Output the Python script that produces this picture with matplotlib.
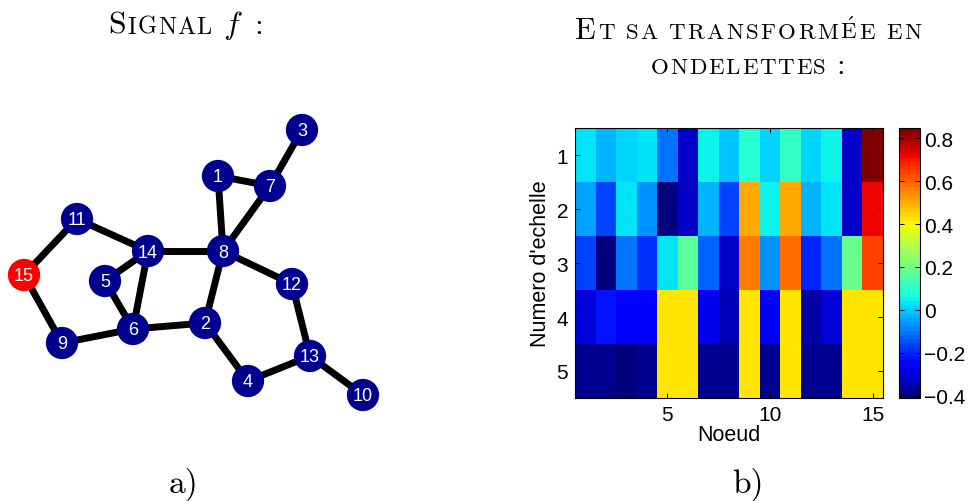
import matplotlib
matplotlib.use('Agg')
import matplotlib.pyplot as plt
import numpy as np

W, H = 976, 502

# Graph a): node layout (pixel coords, y downwards)
NODE_IDS = list(range(1, 16))
NODE_X = [218, 205, 302, 248, 105, 133, 270, 223, 62, 363, 77, 292, 310, 148, 24]
NODE_Y = [177, 324, 131, 382, 282, 330, 187, 252, 344, 396, 220, 285, 357, 252, 276]
EDGES = [(3, 7), (1, 7), (1, 8), (7, 8), (11, 15), (11, 14), (14, 8), (14, 5),
         (14, 6), (5, 6), (15, 9), (9, 6), (6, 2), (2, 8), (8, 12), (2, 4),
         (12, 13), (4, 13), (13, 10)]
SIGNAL_NODE = 15

# Heatmap b): wavelet coefficients, rows = scale 1..5, cols = node 1..15
Y = 0.42  # saturated yellow cells
SCALE_1 = [0.03, -0.03, 0.02, 0.03, -0.10, -0.32, 0.06, 0.00, 0.09, 0.02, 0.105, 0.02, 0.06, -0.32, 0.84]
SCALE_2 = [-0.05, -0.17, 0.04, -0.06, -0.40, -0.32, -0.02, -0.17, 0.51, 0.06, 0.51, -0.02, 0.03, -0.32, 0.71]
SCALE_3 = [-0.17, -0.40, -0.11, -0.19, 0.04, 0.17, -0.13, -0.32, 0.57, -0.06, 0.59, -0.21, -0.11, 0.18, 0.64]
SCALE_4 = [-0.30, -0.22, -0.27, -0.27, Y, Y, -0.28, -0.35, Y, -0.27, Y, -0.37, -0.30, Y, Y]
SCALE_5 = [-0.39, -0.39, -0.40, -0.38, Y, Y, -0.39, -0.39, Y, -0.38, Y, -0.39, -0.38, Y, Y]
CLIM = (-0.41, 0.847)
XTICKS = [5, 10, 15]
YTICKS = [1, 2, 3, 4, 5]
CB_TICKS = [-0.4, -0.2, 0, 0.2, 0.4, 0.6, 0.8]
CB_LABELS = ['\u22120.4', '\u22120.2', '0', '0.2', '0.4', '0.6', '0.8']

TITLE_A = [('Signal', 'sc'), ('$f$', 'rm'), (':', 'rm')]
TITLE_B1 = [('Et', 'sc'), ('sa', 'sc'), ('transformée', 'sc'), ('en', 'sc')]
TITLE_B2 = [('ondelettes', 'sc'), (':', 'rm')]

plt.rcParams['mathtext.fontset'] = 'cm'
plt.rcParams['font.family'] = ['Liberation Sans', 'DejaVu Sans']


def sc_chars(word):
    # fake small caps: capitals at full size, lower case as smaller capitals
    out = []
    for ch in word:
        s = ch.upper()
        if s == 'É':
            s = r'$\acute{\mathrm{E}}$'
        out.append((s, ch.isupper()))
    return out


def draw_title(fig, tokens, xc, yb, big, small, track):
    r = fig.canvas.get_renderer()
    pieces = []
    x = 0
    for i, (tok, kind) in enumerate(tokens):
        if i:
            x += 0.36 * big * fig.dpi / 72
        chars = sc_chars(tok) if kind == 'sc' else [(tok, True)]
        for j, (s, isbig) in enumerate(chars):
            t = fig.text(0, 1 - yb / H, s, fontsize=big if isbig else small,
                         family='cmr10', va='baseline', ha='left')
            w = t.get_window_extent(r).width
            pieces.append((t, x))
            x += w
            if j < len(chars) - 1:
                x += track
    x0 = xc - x / 2
    for t, off in pieces:
        t.set_x((x0 + off) / W)


fig = plt.figure(figsize=(W / 100, H / 100), dpi=100)

# a) graph
ax1 = fig.add_axes([0, 0, 400 / W, 1])
ax1.set_xlim(0, 400)
ax1.set_ylim(H, 0)
ax1.axis('off')
for a, b in EDGES:
    ax1.plot([NODE_X[a - 1], NODE_X[b - 1]], [NODE_Y[a - 1], NODE_Y[b - 1]],
             color='black', linewidth=5, solid_capstyle='butt', zorder=1)
colors = ['#ff0000' if n == SIGNAL_NODE else '#00008f' for n in NODE_IDS]
ax1.scatter(NODE_X, NODE_Y, s=540, c=colors, edgecolors='none', zorder=2)
for n, x, y in zip(NODE_IDS, NODE_X, NODE_Y):
    ax1.text(x, y + 1, str(n), color='white', fontsize=13, ha='center',
             va='center', zorder=3)

# b) heatmap of coefficients
coeffs = np.array([SCALE_1, SCALE_2, SCALE_3, SCALE_4, SCALE_5])
ax2 = fig.add_axes([575 / W, 1 - 399 / H, 308 / W, 270 / H])
im = ax2.imshow(coeffs, cmap=plt.get_cmap('jet', 64), vmin=CLIM[0], vmax=CLIM[1],
                aspect='auto', interpolation='nearest',
                extent=(0.5, len(SCALE_1) + 0.5, len(YTICKS) + 0.5, 0.5))
ax2.set_xticks(XTICKS)
ax2.set_yticks(YTICKS)
ax2.tick_params(direction='in', top=True, right=True, length=3.5, width=0.7,
                labelsize=15, pad=5)
ax2.set_xlabel('Noeud', fontsize=15.5, labelpad=0)
ax2.set_ylabel("Numero d'echelle", fontsize=15.5, labelpad=4)
for sp in ax2.spines.values():
    sp.set_linewidth(0.8)

cax = fig.add_axes([899 / W, 1 - 399 / H, 21 / W, 270 / H])
cb = fig.colorbar(im, cax=cax, ticks=CB_TICKS)
cb.set_ticklabels(CB_LABELS)
cb.ax.tick_params(direction='in', left=True, right=True, length=3.5, width=0.7,
                  labelsize=15, pad=3)
cb.outline.set_linewidth(0.8)

# titles and panel letters
draw_title(fig, TITLE_A, 186, 34, 23, 17.5, 1.2)
draw_title(fig, TITLE_B1, 748, 39, 22, 16.5, 2.3)
draw_title(fig, TITLE_B2, 748, 74, 22, 16.5, 1.7)
fig.text(184 / W, 1 - 493 / H, 'a)', fontsize=24, family='cmr10', ha='center', va='baseline')
fig.text(748 / W, 1 - 493 / H, 'b)', fontsize=24, family='cmr10', ha='center', va='baseline')

fig.savefig('out.png', dpi=100)
